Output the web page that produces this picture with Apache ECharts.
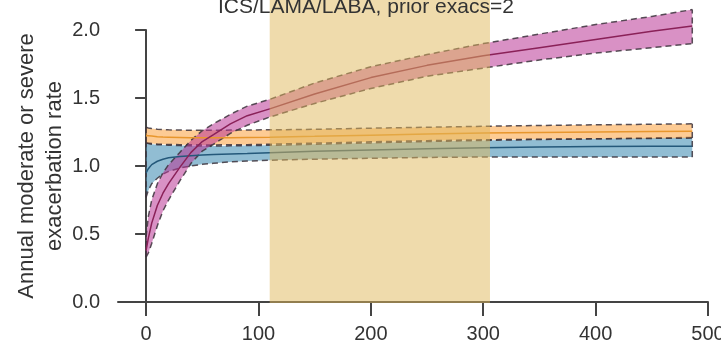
<!DOCTYPE html>
<html>
<head>
<meta charset="utf-8">
<script src="https://cdn.jsdelivr.net/npm/echarts@6/dist/echarts.min.js"></script>
<style>
html,body{margin:0;padding:0;background:#fff;}
#c{width:721px;height:354px;}
</style>
</head>
<body>
<div id="c"></div>
<script>
const titleText = 'ICS/LAMA/LABA, prior exacs=2';
const yName = 'Annual moderate or severe\nexacerbation rate';
const xTicks = [0, 100, 200, 300, 400, 500];
const bandRange = [110, 306];

const xs = [0, 2, 5, 10, 15, 20, 30, 40, 50, 60, 75, 90, 110, 150, 200, 250, 300, 350, 400, 450, 486];

const pinkMid   = [0.38, 0.47, 0.58, 0.71, 0.80, 0.87, 0.99, 1.10, 1.18, 1.23, 1.31, 1.37, 1.42, 1.53, 1.65, 1.74, 1.81, 1.87, 1.93, 1.99, 2.03];
const pinkUpper = [0.48, 0.63, 0.75, 0.87, 0.95, 1.01, 1.10, 1.19, 1.26, 1.31, 1.38, 1.44, 1.49, 1.61, 1.73, 1.82, 1.90, 1.97, 2.04, 2.10, 2.15];
const pinkLower = [0.33, 0.36, 0.43, 0.56, 0.67, 0.75, 0.89, 1.02, 1.11, 1.16, 1.24, 1.30, 1.36, 1.46, 1.57, 1.66, 1.72, 1.78, 1.83, 1.87, 1.90];

const orangeMid   = [1.225, 1.223, 1.22, 1.215, 1.213, 1.212, 1.21, 1.208, 1.207, 1.207, 1.208, 1.21, 1.212, 1.218, 1.227, 1.235, 1.242, 1.247, 1.25, 1.253, 1.255];
const orangeUpper = [1.285, 1.28, 1.275, 1.27, 1.268, 1.266, 1.264, 1.263, 1.263, 1.263, 1.264, 1.265, 1.266, 1.27, 1.278, 1.285, 1.292, 1.298, 1.303, 1.307, 1.31];
const orangeLower = [1.17, 1.168, 1.165, 1.162, 1.16, 1.158, 1.157, 1.156, 1.155, 1.155, 1.156, 1.157, 1.16, 1.168, 1.178, 1.186, 1.193, 1.197, 1.2, 1.203, 1.205];

const blueMid   = [0.95, 0.98, 1.01, 1.035, 1.05, 1.06, 1.07, 1.075, 1.08, 1.084, 1.088, 1.092, 1.098, 1.108, 1.118, 1.127, 1.135, 1.14, 1.143, 1.145, 1.146];
const blueUpper = [1.17, 1.165, 1.16, 1.157, 1.155, 1.153, 1.15, 1.148, 1.147, 1.147, 1.148, 1.15, 1.152, 1.16, 1.17, 1.18, 1.188, 1.195, 1.2, 1.205, 1.21];
const blueLower = [0.77, 0.82, 0.87, 0.91, 0.94, 0.96, 0.985, 1.0, 1.012, 1.02, 1.03, 1.036, 1.042, 1.05, 1.057, 1.063, 1.066, 1.067, 1.067, 1.067, 1.067];

const FONT = '"Liberation Sans", Arial, Helvetica, sans-serif';
const dashColor = 'rgba(60,50,60,0.85)';

function bandSeries(name, mid, upper, lower, fill, lineColor) {
  const data = xs.map((x, i) => [x, lower[i], upper[i]]);
  return [
    {
      name: name + ' band', type: 'custom', data: data, z: 3, silent: true,
      encode: { x: 0, y: [1, 2] },
      renderItem: function (params, api) {
        if (params.dataIndex !== 0) return null;
        const up = data.map(d => api.coord([d[0], d[2]]));
        const lo = data.map(d => api.coord([d[0], d[1]]));
        const poly = up.concat(lo.slice().reverse());
        const dashed = { stroke: dashColor, lineWidth: 1.5, lineDash: [6, 4], fill: null };
        const n = up.length - 1;
        return {
          type: 'group',
          children: [
            { type: 'polygon', shape: { points: poly }, style: { fill: fill, stroke: null } },
            { type: 'polyline', shape: { points: up }, style: dashed },
            { type: 'polyline', shape: { points: lo }, style: dashed },
            { type: 'line', shape: { x1: lo[0][0], y1: lo[0][1], x2: up[0][0], y2: up[0][1] }, style: dashed },
            { type: 'line', shape: { x1: lo[n][0], y1: lo[n][1], x2: up[n][0], y2: up[n][1] }, style: dashed }
          ]
        };
      }
    },
    {
      name: name + ' mid', type: 'line', data: xs.map((x, i) => [x, mid[i]]), symbol: 'none',
      clip: false, lineStyle: { color: lineColor, width: 1.5 }, z: 4, silent: true
    }
  ];
}

const chart = echarts.init(document.getElementById('c'));
const option = {
  animation: false,
  backgroundColor: '#fff',
  title: {
    text: titleText, left: 218, top: -3, padding: 0, z: 20,
    textStyle: { fontFamily: FONT, fontSize: 21, fontWeight: 'normal', color: '#333' }
  },
  grid: { left: 118, right: 13, top: 30, bottom: 52, outerBoundsMode: 'none', containLabel: false },
  xAxis: {
    type: 'value', min: -25, max: 500,
    axisLine: { show: true, onZero: true, lineStyle: { color: '#444', width: 2 } },
    axisTick: { show: true, length: 14, customValues: xTicks, lineStyle: { color: '#444', width: 2 } },
    axisLabel: { customValues: xTicks, margin: 22, fontFamily: FONT, fontSize: 20, color: '#333' },
    splitLine: { show: false }
  },
  yAxis: {
    type: 'value', min: 0, max: 2, interval: 0.5,
    name: yName, nameLocation: 'middle', nameGap: 77, nameMoveOverlap: false,
    nameTextStyle: { fontFamily: FONT, fontSize: 22, color: '#333', lineHeight: 28, align: 'center', verticalAlign: 'middle' },
    axisLine: { show: true, lineStyle: { color: '#444', width: 2 } },
    axisTick: { show: true, length: 11, lineStyle: { color: '#444', width: 2 } },
    axisLabel: { margin: 18, fontFamily: FONT, fontSize: 20, color: '#333', formatter: v => v.toFixed(1) },
    splitLine: { show: false }
  },
  series: [
    ...bandSeries('blue', blueMid, blueUpper, blueLower, 'rgba(55,135,175,0.55)', '#24587a'),
    ...bandSeries('orange', orangeMid, orangeUpper, orangeLower, 'rgba(252,160,60,0.55)', '#e8962c'),
    ...bandSeries('pink', pinkMid, pinkUpper, pinkLower, 'rgba(185,55,150,0.55)', '#8a2158')
  ]
};
chart.setOption(option);

// shaded window, placed through the axes' own scales
const x0 = chart.convertToPixel({ xAxisIndex: 0 }, bandRange[0]);
const x1 = chart.convertToPixel({ xAxisIndex: 0 }, bandRange[1]);
const yBottom = chart.convertToPixel({ yAxisIndex: 0 }, 0);
chart.setOption({
  graphic: [{
    type: 'rect', z: 10, silent: true,
    shape: { x: x0, y: 0, width: x1 - x0, height: yBottom + 1 },
    style: { fill: 'rgba(223,183,89,0.5)' }
  }]
});
</script>
</body>
</html>
